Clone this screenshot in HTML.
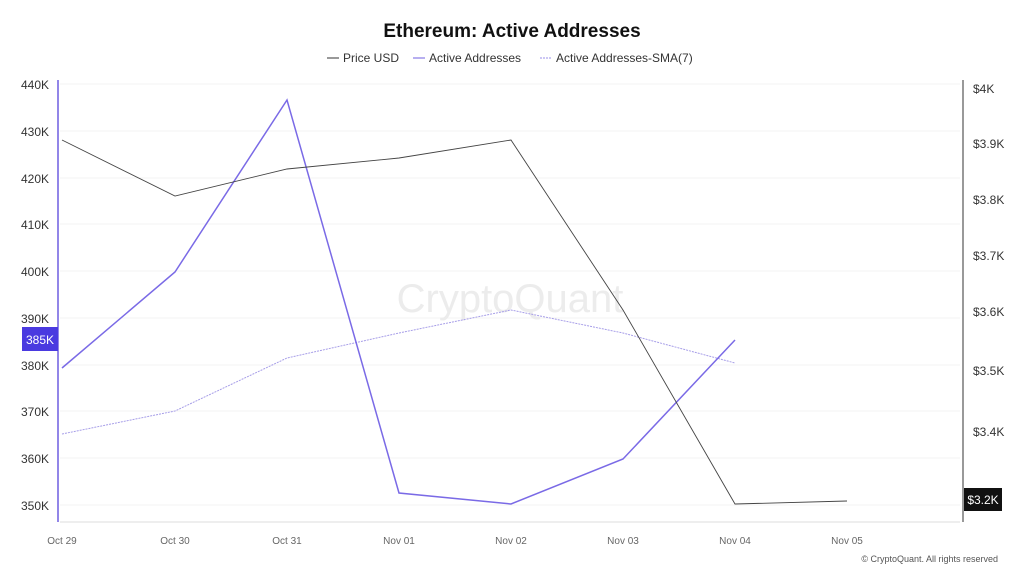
<!DOCTYPE html>
<html><head><meta charset="utf-8"><style>
body{margin:0;background:#fff;font-family:"Liberation Sans",sans-serif}
</style></head><body>
<svg width="1024" height="576" xmlns="http://www.w3.org/2000/svg" font-family="Liberation Sans, sans-serif">
<text x="512" y="37" text-anchor="middle" font-size="19" font-weight="bold" fill="#111">Ethereum: Active Addresses</text>
<g font-size="12" fill="#333">
<line x1="327" y1="58" x2="339" y2="58" stroke="#333"/><text x="343" y="62">Price USD</text>
<line x1="413" y1="58" x2="425" y2="58" stroke="#6f5fe0"/><text x="429" y="62">Active Addresses</text>
<line x1="540" y1="58" x2="552" y2="58" stroke="#9a8fe8" stroke-dasharray="2,1"/><text x="556" y="62">Active Addresses-SMA(7)</text>
</g>
<g stroke="#f3f3f3">
<line x1="60" x2="960" y1="84" y2="84"/><line x1="60" x2="960" y1="131" y2="131"/><line x1="60" x2="960" y1="178" y2="178"/><line x1="60" x2="960" y1="224" y2="224"/><line x1="60" x2="960" y1="271" y2="271"/><line x1="60" x2="960" y1="318" y2="318"/><line x1="60" x2="960" y1="365" y2="365"/><line x1="60" x2="960" y1="411" y2="411"/><line x1="60" x2="960" y1="458" y2="458"/><line x1="60" x2="960" y1="505" y2="505"/>
</g>
<line x1="60" x2="960" y1="522" y2="522" stroke="#ddd"/>
<text x="510" y="312" text-anchor="middle" font-size="40" fill="#ececec">CryptoQuant</text>
<line x1="58" y1="80" x2="58" y2="522" stroke="#6f5fe0" stroke-width="1.5"/>
<line x1="963" y1="80" x2="963" y2="522" stroke="#333" stroke-width="1"/>
<g font-size="12" fill="#333" text-anchor="end">
<text x="49" y="89">440K</text><text x="49" y="136">430K</text><text x="49" y="183">420K</text><text x="49" y="229">410K</text><text x="49" y="276">400K</text><text x="49" y="323">390K</text><text x="49" y="370">380K</text><text x="49" y="416">370K</text><text x="49" y="463">360K</text><text x="49" y="510">350K</text>
</g>
<rect x="22" y="327" width="36" height="24" fill="#4a3ae0"/><text x="40" y="344" font-size="12" fill="#fff" text-anchor="middle">385K</text>
<g font-size="12" fill="#333">
<text x="973" y="93">$4K</text><text x="973" y="148">$3.9K</text><text x="973" y="204">$3.8K</text><text x="973" y="260">$3.7K</text><text x="973" y="316">$3.6K</text><text x="973" y="375">$3.5K</text><text x="973" y="436">$3.4K</text>
</g>
<rect x="964" y="488" width="38" height="23" fill="#111"/><text x="983" y="504" font-size="12" fill="#fff" text-anchor="middle">$3.2K</text>
<g font-size="10" fill="#666" text-anchor="middle">
<text x="62" y="544">Oct 29</text><text x="175" y="544">Oct 30</text><text x="287" y="544">Oct 31</text><text x="399" y="544">Nov 01</text><text x="511" y="544">Nov 02</text><text x="623" y="544">Nov 03</text><text x="735" y="544">Nov 04</text><text x="847" y="544">Nov 05</text>
</g>
<text x="998" y="562" font-size="9" fill="#555" text-anchor="end">© CryptoQuant. All rights reserved</text>
<polyline fill="none" stroke="#a79ee8" stroke-width="1" stroke-dasharray="2,1" points="62,434 175,411 287,358 399,333 511,310 623,333 735,363"/>
<polyline fill="none" stroke="#7a6ae6" stroke-width="1.5" points="62,368 175,272 287,100 399,493 511,504 623,459 735,340"/>
<polyline fill="none" stroke="#444" stroke-width="0.9" points="62,140 175,196 287,169 399,158 511,140 623,310 735,504 847,501"/>
</svg>
</body></html>
